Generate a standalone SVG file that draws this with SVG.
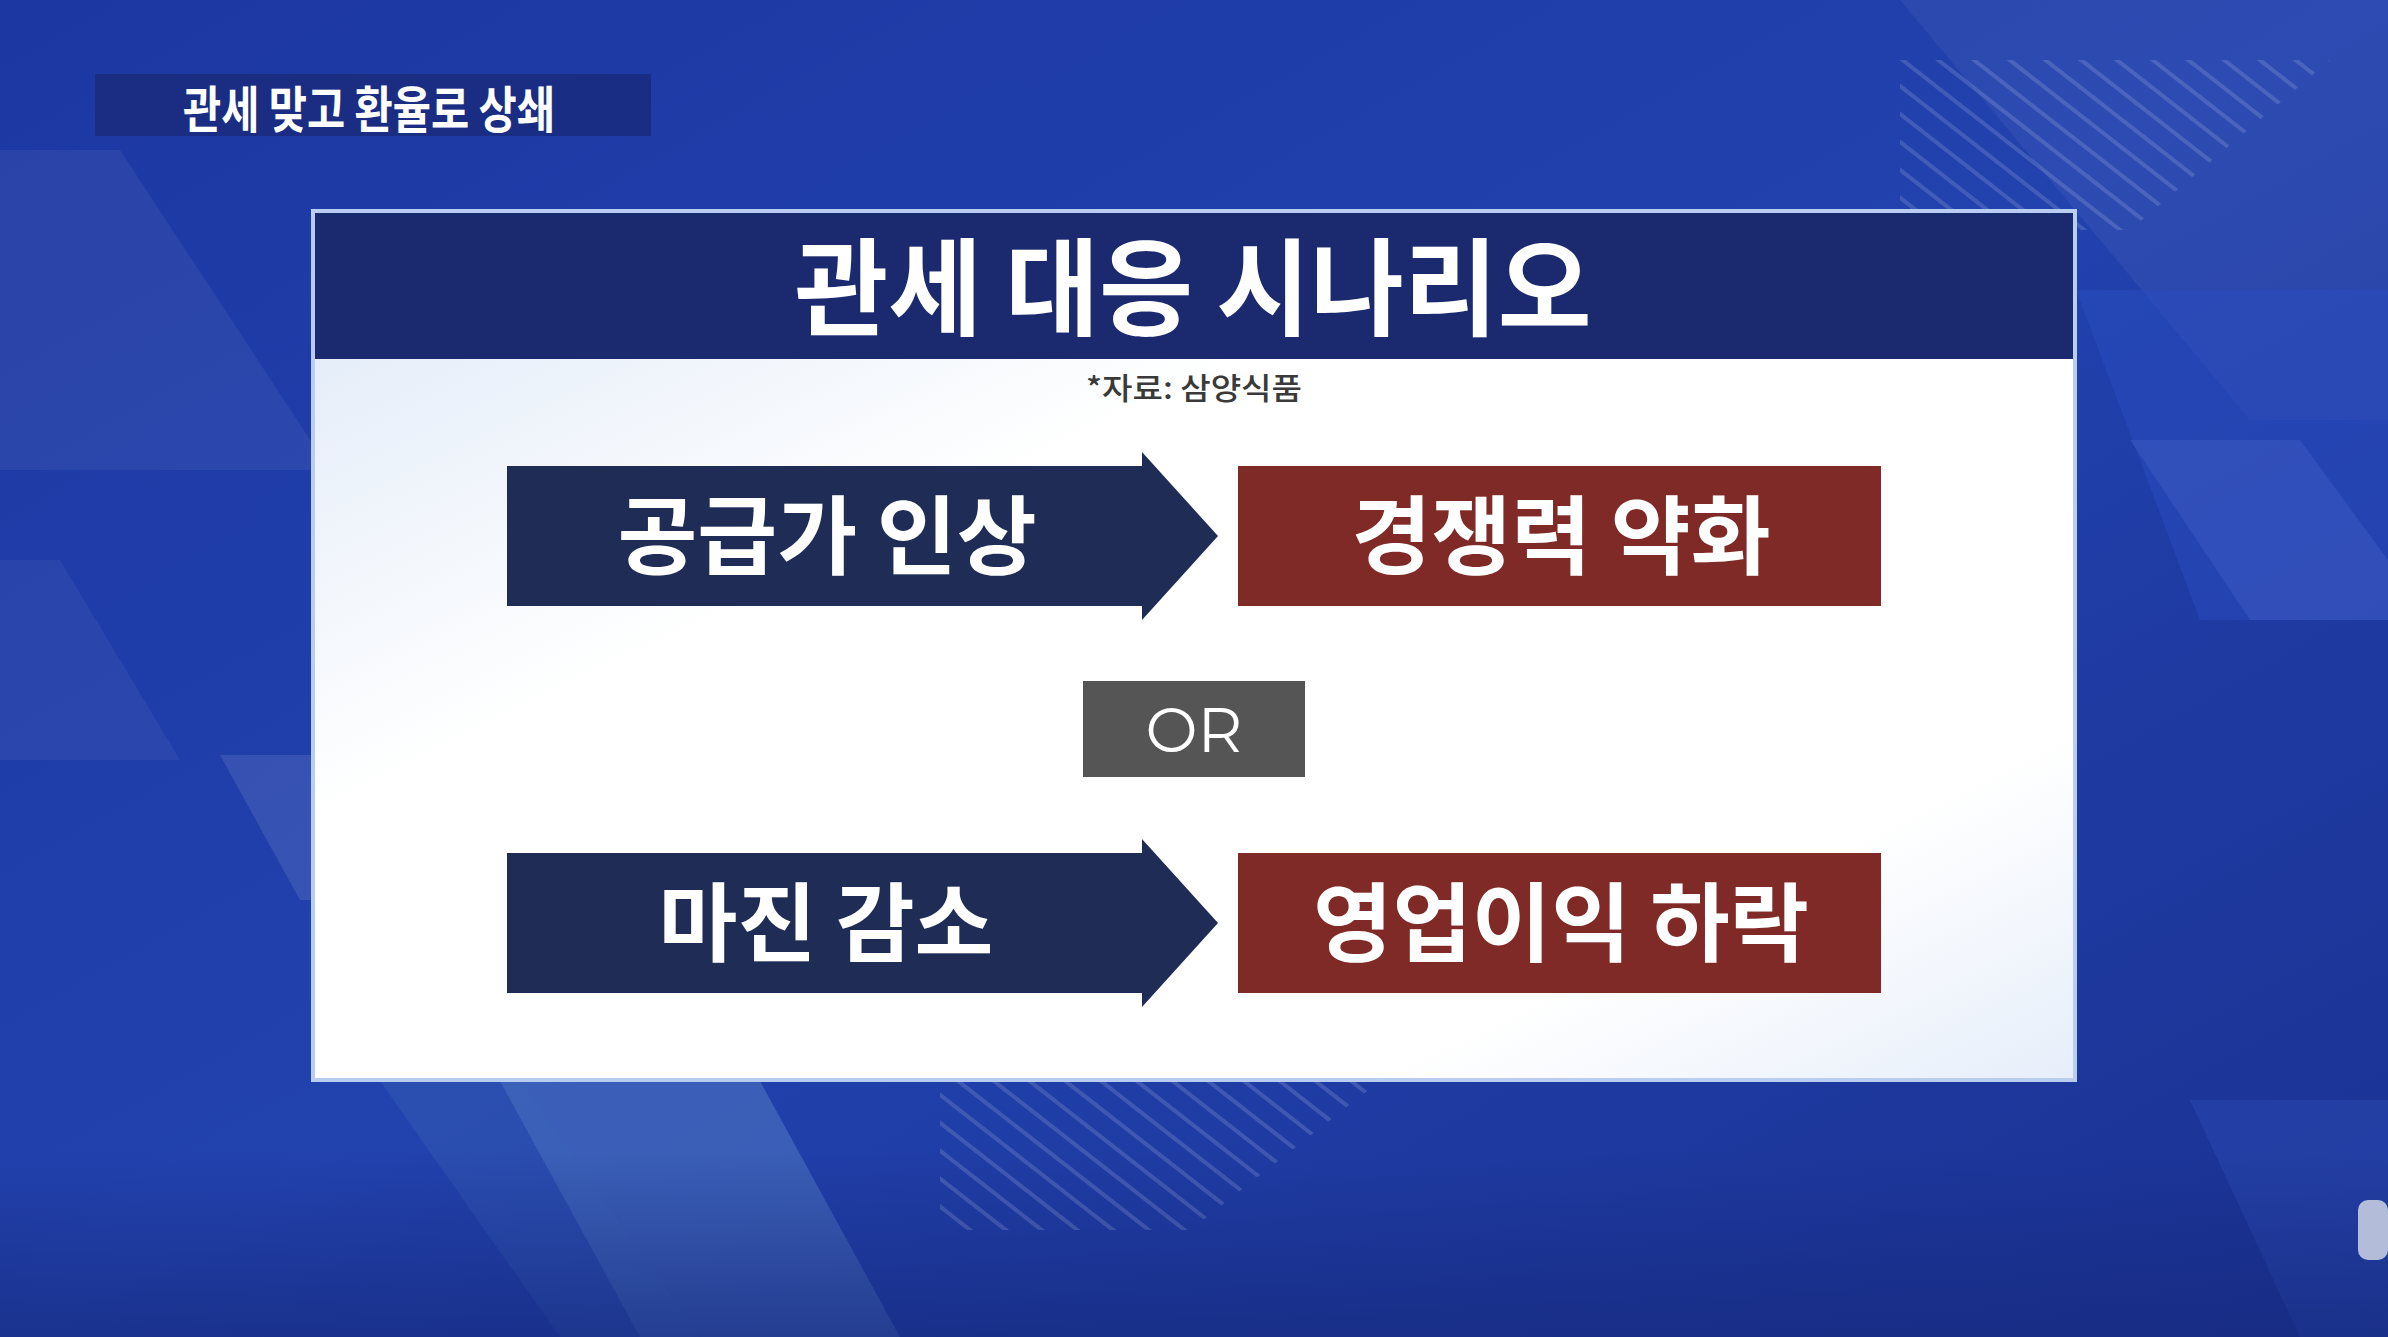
<svg xmlns="http://www.w3.org/2000/svg" width="2388" height="1337" viewBox="0 0 2388 1337">
<defs>
<linearGradient id="bg" x1="0" y1="0" x2="1" y2="1">
<stop offset="0" stop-color="#1c37a2"/>
<stop offset="0.5" stop-color="#2242ae"/>
<stop offset="1" stop-color="#1a3192"/>
</linearGradient>
<linearGradient id="bottomShade" x1="0" y1="0" x2="0" y2="1">
<stop offset="0" stop-color="#15287a" stop-opacity="0"/>
<stop offset="1" stop-color="#15287a" stop-opacity="0.6"/>
</linearGradient>
<linearGradient id="panel" x1="0" y1="0" x2="1" y2="1">
<stop offset="0" stop-color="#dde8f7"/>
<stop offset="0.35" stop-color="#ffffff"/>
<stop offset="0.8" stop-color="#ffffff"/>
<stop offset="1" stop-color="#e6eefa"/>
</linearGradient>
<pattern id="stripes" width="22" height="22" patternUnits="userSpaceOnUse" patternTransform="rotate(-52)">
<rect width="4" height="22" fill="#ffffff" fill-opacity="0.14"/>
</pattern>
</defs>
<style>
.navy{fill:#1f2d56}
.red{fill:#7f2a26}
.big{font-family:"Noto Sans CJK KR","Noto Sans",sans-serif;font-weight:700;fill:#ffffff;text-anchor:middle}
.src{font-family:"Noto Sans CJK KR","Noto Sans",sans-serif;font-weight:500;fill:#3a3a3a;text-anchor:middle}
</style>
<g id="background">
<rect width="2388" height="1337" fill="url(#bg)"/>
<polygon points="0,150 120,150 330,470 0,470" fill="#ffffff" fill-opacity="0.06"/>
<polygon points="0,560 60,560 180,760 0,760" fill="#ffffff" fill-opacity="0.05"/>
<polygon points="220,755 330,755 420,900 300,900" fill="#ffffff" fill-opacity="0.10"/>
<polygon points="500,1081 760,1081 900,1337 640,1337" fill="#5a86c8" fill-opacity="0.45"/>
<polygon points="380,1081 520,1081 700,1337 560,1337" fill="#3d63b6" fill-opacity="0.35"/>
<polygon points="1900,0 2388,0 2388,420 2250,420" fill="#ffffff" fill-opacity="0.05"/>
<polygon points="2076,290 2388,290 2388,620 2200,620" fill="#2a4cc0" fill-opacity="0.5"/>
<polygon points="2130,440 2300,440 2388,560 2388,620 2250,620" fill="#4a63c8" fill-opacity="0.35"/>
<polygon points="2190,1100 2388,1100 2388,1337 2300,1337" fill="#3050b8" fill-opacity="0.4"/>
<rect x="0" y="1150" width="2388" height="187" fill="url(#bottomShade)"/>
<polygon points="1900,60 2330,60 2130,230 1900,230" fill="url(#stripes)"/>
<polygon points="940,1081 1380,1081 1190,1230 940,1230" fill="url(#stripes)"/>
<rect x="2358" y="1200" width="30" height="60" rx="10" fill="#d8dde8" fill-opacity="0.8"/>
</g>
<g id="subtitle">
<rect x="95" y="74" width="556" height="62" fill="#1a2a78" fill-opacity="0.75"/>
<text x="369" y="128" font-family="'Noto Sans CJK KR','Noto Sans',sans-serif" font-weight="700" font-size="50" fill="#ffffff" text-anchor="middle" textLength="372" lengthAdjust="spacingAndGlyphs">관세 맞고 환율로 상쇄</text>
</g>
<g id="panel">
<rect x="313" y="211" width="1762" height="869" fill="url(#panel)" stroke="#b9cdf0" stroke-width="4"/>
<rect x="315" y="213" width="1758" height="146" fill="#1b2a6e"/>
<text class="big" x="1193" y="327" font-size="106" textLength="797" lengthAdjust="spacingAndGlyphs">관세 대응 시나리오</text>
<text class="src" x="1194" y="399" font-size="30" textLength="216" lengthAdjust="spacingAndGlyphs">*자료: 삼양식품</text>
</g>
<g id="node-price">
<polygon class="navy" points="507,466 1142,466 1142,452 1218,536 1142,620 1142,606 507,606"/>
<text class="big" x="827" y="568" font-size="86" textLength="419" lengthAdjust="spacingAndGlyphs">공급가 인상</text>
</g>
<g id="node-compete">
<rect class="red" x="1238" y="466" width="643" height="140"/>
<text class="big" x="1561" y="568" font-size="86" textLength="419" lengthAdjust="spacingAndGlyphs">경쟁력 약화</text>
</g>
<g id="node-or">
<rect x="1083" y="681" width="222" height="96" fill="#555555"/>
<text x="1194" y="752" font-family="Montserrat,'Noto Sans',sans-serif" font-size="62" fill="#ffffff" text-anchor="middle">OR</text>
</g>
<g id="node-margin">
<polygon class="navy" points="507,853 1142,853 1142,839 1218,923 1142,1007 1142,993 507,993"/>
<text class="big" x="826" y="955" font-size="86" textLength="335" lengthAdjust="spacingAndGlyphs">마진 감소</text>
</g>
<g id="node-profit">
<rect class="red" x="1238" y="853" width="643" height="140"/>
<text class="big" x="1561" y="955" font-size="86" textLength="496" lengthAdjust="spacingAndGlyphs">영업이익 하락</text>
</g>
<g id="connectors"></g>
</svg>
